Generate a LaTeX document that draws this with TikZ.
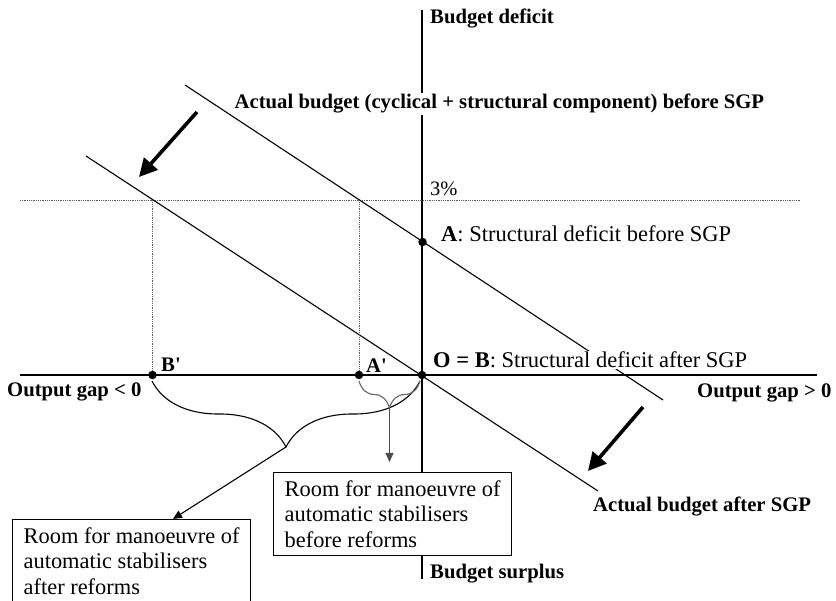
\documentclass[tikz,border=0pt]{standalone}
\usepackage{fontspec}
\setmainfont{Liberation Serif}
\usetikzlibrary{arrows.meta,decorations.pathreplacing}
\begin{document}
\begin{tikzpicture}[x=1pt,y=-1pt,
  axis/.style={line width=1.3pt},
  budgetline/.style={line width=1.1pt},
  guide/.style={line width=0.6pt, black!65, dash pattern=on 0.9pt off 0.9pt},
  dot/.style={circle, fill=black, inner sep=0pt, minimum size=8.5pt},
  lbl/.style={font=\fontsize{20.7}{24}\selectfont\bfseries, inner sep=0pt},
  txt/.style={font=\fontsize{22.5}{26}\selectfont, inner sep=0pt},
  mask/.style={fill=white, inner sep=1.5pt},
  shiftarrow/.style={line width=3.6pt, -{Triangle[length=18pt,width=18pt]}},
  infobox/.style={draw, line width=1.2pt, fill=white, align=left, minimum width=238pt, minimum height=83pt, inner sep=0pt, font=\fontsize{22.4}{25.5}\selectfont},
  bracebig/.style={decorate, decoration={brace, amplitude=66pt}, line width=1.1pt},
  bracesmall/.style={decorate, decoration={brace, amplitude=27pt}, line width=1.1pt, black!60},
  pointer/.style={line width=1.1pt, -{Triangle[length=9pt,width=8pt]}}
]
\useasboundingbox (0,0) rectangle (836,601);
\clip (0,0) rectangle (836,601);

% axes
\coordinate (xl) at (20,375);
\coordinate (xr) at (817,375);
\coordinate (yt) at (422,10);
\coordinate (yb) at (422,579);
\draw[axis] (xl) -- (xr);
\draw[axis] (yt) -- (yb);

% 3% guide
\coordinate (gl) at (20,200);
\coordinate (gr) at (800,200);
\draw[guide] (gl) -- (gr);

% budget lines
\coordinate (u1) at (185,85);
\coordinate (u2) at (663,400);
\coordinate (l1) at (86,156);
\coordinate (l2) at (598,491);
\draw[budgetline] (u1) -- (u2);
\draw[budgetline] (l1) -- (l2);

% points
\node[dot] (A) at (422.5,242) {};
\node[dot] (O) at (422,375) {};
\node[dot] (Ap) at (359,375) {};
\node[dot] (Bp) at (152.5,375) {};
\coordinate (Atop) at (359,200);
\coordinate (Btop) at (152.5,200);
\draw[guide] (Ap) -- (Atop);
\draw[guide] (Bp) -- (Btop);

% shift arrows
\coordinate (s1a) at (197,112);
\coordinate (s1b) at (139,177);
\coordinate (s2a) at (643,407);
\coordinate (s2b) at (588,471);
\draw[shiftarrow] (s1a) -- (s1b);
\draw[shiftarrow] (s2a) -- (s2b);

% braces
\coordinate (bgR) at (420,381);
\coordinate (bgL) at (152,381);
\coordinate (smR) at (420,381);
\coordinate (smL) at (359,381);
\draw[bracebig] (bgR) -- (bgL);
\draw[bracesmall] (smR) -- (smL);
\coordinate (bigtip) at (286,447);
\coordinate (smalltip) at (389.5,408);

% labels
\node[lbl, anchor=base west] (bd) at (430,24) {Budget deficit};
\node[lbl, mask, anchor=base west] (ab) at (233,109) {Actual budget (cyclical + structural component) before SGP};
\node[txt, anchor=base west, font=\fontsize{20.5}{24}\selectfont] (pc) at (430,196) {3\%};
\node[txt, anchor=base west] (Alab) at (441,242) {\textbf{A}: Structural deficit before SGP};
\node[txt, mask, inner sep=1pt, anchor=base west] (Olab) at (432,368) {\textbf{O = B}: Structural deficit after SGP};
\node[lbl, anchor=base west] (ogn) at (7,397) {Output gap < 0};
\node[lbl, anchor=base west] (ogp) at (697,398) {Output gap > 0};
\node[lbl, anchor=base west] (Bpl) at (161,372) {B\textquotesingle};
\node[lbl, anchor=base west] (Apl) at (366,373) {A\textquotesingle};
\node[lbl, anchor=base west] (aa) at (593,512) {Actual budget after SGP};
\node[lbl, anchor=base west] (bs) at (430,578) {Budget surplus};

% boxes
\node[infobox, anchor=north west] (before) at (273,472) {Room for manoeuvre of\\automatic stabilisers\\before reforms};
\node[infobox, anchor=north west] (after) at (12,519) {Room for manoeuvre of\\automatic stabilisers\\after reforms};

% pointers
\coordinate (bigx) at (173,0);
\draw[pointer] (bigtip) -- (after.north west -| bigx);
\coordinate (smallend) at (389.5,462);
\draw[pointer, black!70] (smalltip) -- (smallend);
\end{tikzpicture}
\end{document}
